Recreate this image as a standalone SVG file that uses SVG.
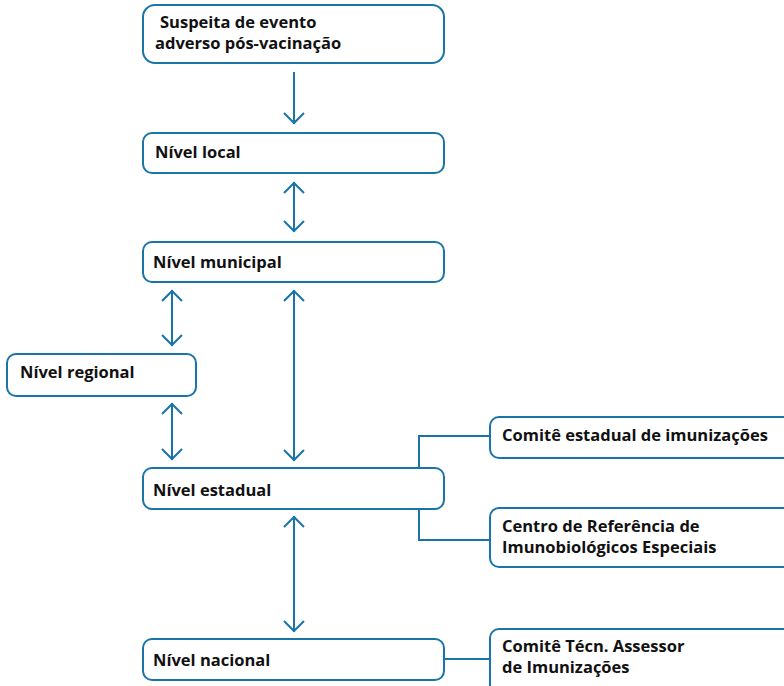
<svg xmlns="http://www.w3.org/2000/svg" width="784" height="686" viewBox="0 0 784 686">
<defs>
<style>
.box{fill:#fff;stroke:#1a74a8;stroke-width:2}
.ln{fill:none;stroke:#1a74a8;stroke-width:2}
.t{font-family:"Open Sans","Liberation Sans",sans-serif;font-weight:700;font-size:16.5px;fill:#111}
</style>
<marker id="ah" markerUnits="userSpaceOnUse" markerWidth="24" markerHeight="24" viewBox="0 0 24 24" refX="13" refY="12" orient="auto-start-reverse">
<path d="M2,2 L12,12 L2,22" fill="none" stroke="#1a74a8" stroke-width="2"/>
</marker>
</defs>
<rect width="784" height="686" fill="#fff"/>
<g id="connectors">
<line class="ln" x1="294" y1="72" x2="294" y2="124" marker-end="url(#ah)"/>
<line class="ln" x1="294" y1="182" x2="294" y2="232" marker-start="url(#ah)" marker-end="url(#ah)"/>
<line class="ln" x1="172" y1="290" x2="172" y2="346" marker-start="url(#ah)" marker-end="url(#ah)"/>
<line class="ln" x1="172" y1="403" x2="172" y2="460" marker-start="url(#ah)" marker-end="url(#ah)"/>
<line class="ln" x1="294" y1="290" x2="294" y2="461" marker-start="url(#ah)" marker-end="url(#ah)"/>
<line class="ln" x1="294" y1="516" x2="294" y2="632" marker-start="url(#ah)" marker-end="url(#ah)"/>
<path class="ln" d="M490,436 H419 V540 H490"/>
<line class="ln" x1="445" y1="659" x2="490" y2="659"/>
</g>
<g id="n1"><rect class="box" x="143" y="5" width="301" height="58" rx="12"/>
<text class="t" x="160" y="28">Suspeita de evento</text>
<text class="t" x="155" y="49">adverso pós-vacinação</text></g>
<g id="n2"><rect class="box" x="143" y="133" width="301" height="40" rx="9"/>
<text class="t" x="155" y="158">Nível local</text></g>
<g id="n3"><rect class="box" x="143" y="242" width="301" height="40" rx="9"/>
<text class="t" x="153" y="268">Nível municipal</text></g>
<g id="n4"><rect class="box" x="7" y="354" width="189" height="42" rx="9"/>
<text class="t" x="20" y="378">Nível regional</text></g>
<g id="n5"><rect class="box" x="143" y="468" width="301" height="41" rx="9"/>
<text class="t" x="153" y="496">Nível estadual</text></g>
<g id="n6"><rect class="box" x="490" y="417" width="310" height="41" rx="9"/>
<text class="t" x="502" y="441">Comitê estadual de imunizações</text></g>
<g id="n7"><rect class="box" x="490" y="508" width="310" height="59" rx="9"/>
<text class="t" x="502" y="532">Centro de Referência de</text>
<text class="t" x="502" y="553">Imunobiológicos Especiais</text></g>
<g id="n8"><rect class="box" x="143" y="639" width="301" height="41" rx="9"/>
<text class="t" x="153" y="666">Nível nacional</text></g>
<g id="n9"><rect class="box" x="490" y="629" width="310" height="70" rx="9"/>
<text class="t" x="502" y="652">Comitê Técn. Assessor</text>
<text class="t" x="502" y="673">de Imunizações</text></g>
</svg>
